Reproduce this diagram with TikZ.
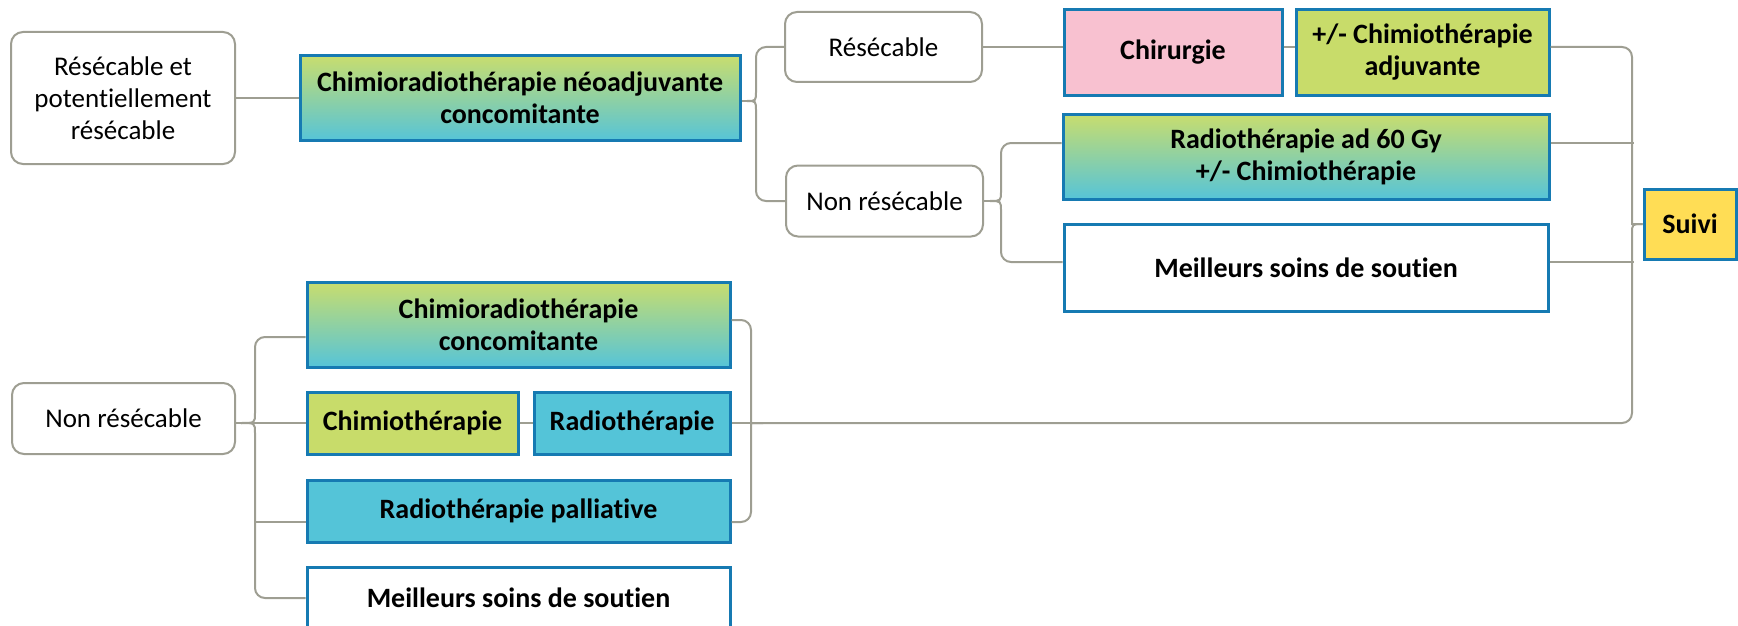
\documentclass[tikz,border=0pt]{standalone}
\usepackage{fontspec}
\setmainfont{Carlito}[Ligatures=NoCommon]
\definecolor{linegray}{RGB}{158,158,146}
\definecolor{boxblue}{RGB}{22,122,178}
\definecolor{gradtop}{RGB}{200,221,110}
\definecolor{gradbot}{RGB}{86,196,216}
\definecolor{chgreen}{RGB}{200,220,106}
\definecolor{rcyan}{RGB}{84,196,216}
\definecolor{chpink}{RGB}{248,193,208}
\definecolor{suiviyellow}{RGB}{255,221,85}
\begin{document}
\begin{tikzpicture}[x=1pt,y=-1pt,
  every node/.style={font=\fontsize{27}{32}\selectfont, align=center, inner sep=0pt},
  conn/.style={draw=linegray, line width=2pt},
  rbox/.style={draw=linegray, line width=2pt, rounded corners=12pt, fill=white},
  cbox/.style={draw=boxblue, line width=3pt, font=\fontsize{28}{32}\selectfont\bfseries},
  gradbox/.style={cbox, top color=gradtop, bottom color=gradbot},
  rc/.style={rounded corners=10pt}]
\useasboundingbox (0,0) rectangle (1738,626);
\clip (0,0) rectangle (1738,626);

% upper branch
\node[rbox, minimum width=224pt, minimum height=132pt] (A) at (123,98) {Résécable et\\potentiellement\\résécable};
\node[gradbox, minimum width=440pt, minimum height=85pt] (B) at (520,98) {Chimioradiothérapie néoadjuvante\\concomitante};
\node[rbox, minimum width=197pt, minimum height=70pt] (C) at (883.5,47) {Résécable};
\node[rbox, minimum width=197pt, minimum height=71pt] (D) at (884.5,201) {Non résécable};
\node[cbox, fill=chpink, minimum width=218pt, minimum height=85pt] (chir) at (1173,52.5) {Chirurgie};
\node[cbox, fill=chgreen, minimum width=253pt, minimum height=85pt] (adj) at (1422.5,52.5) {+/- Chimiothérapie\\adjuvante};
\node[gradbox, minimum width=486pt, minimum height=85pt] (r60) at (1306,156.5) {Radiothérapie ad 60 Gy\\+/- Chimiothérapie};
\node[cbox, fill=white, minimum width=484pt, minimum height=87pt] (mss1) at (1306,267.5) {Meilleurs soins de soutien};
\node[cbox, fill=suiviyellow, minimum width=92pt, minimum height=70pt] (suivi) at (1690,224) {Suivi};

% lower branch
\node[rbox, minimum width=223pt, minimum height=71pt] (E) at (123.5,418.5) {Non résécable};
\node[gradbox, minimum width=423pt, minimum height=85pt] (F) at (518.5,324.5) {Chimioradiothérapie\\concomitante};
\node[cbox, fill=chgreen, minimum width=211pt, minimum height=62pt] (G) at (412.5,423) {Chimiothérapie};
\node[cbox, fill=rcyan, minimum width=196pt, minimum height=62pt] (H) at (632,423) {Radiothérapie};
\node[cbox, fill=rcyan, minimum width=423pt, minimum height=62pt] (I) at (518.5,511) {Radiothérapie palliative};
\node[cbox, fill=white, minimum width=423pt, minimum height=62pt] (J) at (518.5,598) {Meilleurs soins de soutien};

% brace tips
\coordinate (t1) at (747,101);
\coordinate (t2) at (990,201);
\coordinate (t3) at (763,423);
\coordinate (t5) at (241,423);

% connectors, upper branch
\draw[conn] (A.east) -- (B.west);
\draw[conn] (B.east |- t1) -- (t1);
\draw[conn] (t1) .. controls (756,101) .. (756,91) [rc] -- (756,47) -- (C.west);
\draw[conn] (t1) .. controls (756,101) .. (756,111) [rc] -- (756,201) -- (D.west);
\draw[conn] (C.east) -- ([yshift=5.5pt]chir.west);
\draw[conn] ([yshift=5.5pt]chir.east) -- ([yshift=5.5pt]adj.west);
\draw[conn] (D.east) -- (t2);
\draw[conn] (t2) .. controls (1001,201) .. (1001,191) [rc] -- (1001,143) -- ([yshift=13.5pt]r60.west);
\draw[conn] (t2) .. controls (1001,201) .. (1001,211) [rc] -- (1001,262) -- ([yshift=5.5pt]mss1.west);

% connectors into Suivi
\draw[conn] ([yshift=5.5pt]adj.east) [rc] -- (1632,47) -- (1632,214) [sharp corners] .. controls (1632,224) .. (suivi.west);
\draw[conn] (suivi.west) .. controls (1632,224) .. (1632,234) [rc] -- (1632,423) -- (t3);
\draw[conn] ([yshift=13.5pt]r60.east) -- ++(83,0);
\draw[conn] ([yshift=5.5pt]mss1.east) -- ++(84,0);

% connectors, lower branch
\draw[conn] ([yshift=-4.5pt]E.east) -- (t5);
\draw[conn] (t5) .. controls (255,423) .. (255,413) [rc] -- (255,337) -- ([yshift=-12.5pt]F.west);
\draw[conn] (t5) -- (G.west);
\draw[conn] (t5) .. controls (255,423) .. (255,433) [rc] -- (255,598) -- (J.west);
\draw[conn] ([yshift=-11pt]I.west) -- ++(-52,0);
\draw[conn] (G.east) -- (H.west);
\draw[conn] ([yshift=4.5pt]F.east) [rc] -- (751,320) -- (751,413) [sharp corners] .. controls (751,423) .. (t3);
\draw[conn] ([yshift=-11pt]I.east) [rc] -- (751,522) -- (751,433) [sharp corners] .. controls (751,423) .. (t3);
\draw[conn] (H.east) -- (t3);
\end{tikzpicture}
\end{document}
